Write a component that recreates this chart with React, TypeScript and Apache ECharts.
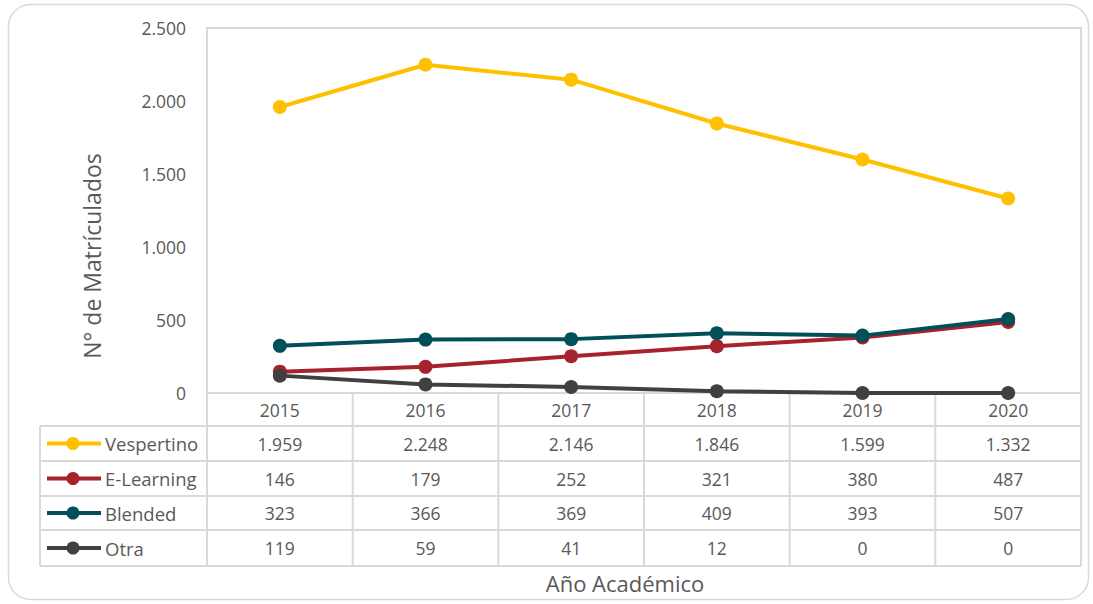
import React, { useEffect, useRef } from "react";
import * as echarts from "echarts";

const categories = ["2015", "2016", "2017", "2018", "2019", "2020"];
const seriesNames = ["Vespertino", "E-Learning", "Blended", "Otra"];
const vespertino = [1959, 2248, 2146, 1846, 1599, 1332];
const eLearning = [146, 179, 252, 321, 380, 487];
const blended = [323, 366, 369, 409, 393, 507];
const otra = [119, 59, 41, 12, 0, 0];
const yTicks = { min: 0, max: 2500, interval: 500 };
const colors = ["#FFC000", "#A8222E", "#014F59", "#404040"];

const seriesData = [vespertino, eLearning, blended, otra];

const fmt = (v: number) => {
  const s = String(Math.round(v));
  return s.replace(/\B(?=(\d{3})+(?!\d))/g, ".");
};

// layout
const L = 207, R = 1081, T = 28, B = 393;
const TL = 40;
const rowY = [393, 426, 461, 496, 530, 566];
const TEXT = "#595959";
const LINEC = "#D9D9D9";
const FONT = "'Open Sans', 'Noto Sans', sans-serif";
const FS = 17.5;

export default function App() {
  const ref = useRef<HTMLDivElement>(null);
  useEffect(() => {
    if (!ref.current) return;
    const chart = echarts.init(ref.current, undefined, { renderer: "svg" });
    const colW = (R - L) / categories.length;

    const graphics: any[] = [];
    graphics.push({
      type: "rect",
      shape: { x: 8.5, y: 4.5, width: 1080, height: 595, r: 22 },
      style: { fill: "none", stroke: LINEC, lineWidth: 1.5 },
      silent: true,
    });
    for (let i = 1; i < rowY.length; i++) {
      graphics.push({
        type: "line",
        shape: { x1: TL, y1: rowY[i], x2: R, y2: rowY[i] },
        style: { stroke: LINEC, lineWidth: 2 },
        silent: true,
      });
    }
    for (let c = 0; c <= categories.length; c++) {
      const x = L + c * colW;
      graphics.push({
        type: "line",
        shape: { x1: x, y1: B, x2: x, y2: rowY[rowY.length - 1] },
        style: { stroke: LINEC, lineWidth: 2 },
        silent: true,
      });
    }
    graphics.push({
      type: "line",
      shape: { x1: TL, y1: rowY[1], x2: TL, y2: rowY[rowY.length - 1] },
      style: { stroke: LINEC, lineWidth: 2 },
      silent: true,
    });
    seriesNames.forEach((name, i) => {
      const cy = (rowY[i + 1] + rowY[i + 2]) / 2;
      graphics.push({
        type: "line",
        shape: { x1: 47, y1: cy, x2: 101, y2: cy },
        style: { stroke: colors[i], lineWidth: 4 },
        silent: true,
      });
      graphics.push({
        type: "circle",
        shape: { cx: 73, cy, r: 6.5 },
        style: { fill: colors[i] },
        silent: true,
      });
      graphics.push({
        type: "text",
        x: 105,
        y: cy,
        style: {
          text: name,
          fill: TEXT,
          font: `18.5px ${FONT}`,
          verticalAlign: "middle",
          align: "left",
        },
        silent: true,
      });
    });
    graphics.push({
      type: "text",
      x: 625,
      y: 583,
      style: {
        text: "Año Académico",
        fill: TEXT,
        font: `22px ${FONT}`,
        align: "center",
        verticalAlign: "middle",
      },
      silent: true,
    });
    graphics.push({
      type: "text",
      x: 92,
      y: 256,
      rotation: Math.PI / 2,
      style: {
        text: "N° de Matrículados",
        fill: TEXT,
        font: `23px ${FONT}`,
        align: "center",
        verticalAlign: "middle",
      },
      silent: true,
    });

    const xAxes: any[] = [
      {
        type: "category",
        data: categories,
        position: "bottom",
        boundaryGap: true,
        axisLine: { show: true, lineStyle: { color: LINEC, width: 2 } },
        axisTick: { show: false },
        axisLabel: { show: false },
      },
      {
        type: "category",
        data: categories,
        position: "bottom",
        offset: (rowY[0] + rowY[1]) / 2 - B,
        boundaryGap: true,
        axisLine: { show: false },
        axisTick: { show: false },
        axisLabel: {
          color: TEXT,
          fontSize: FS,
          fontFamily: FONT,
          margin: 0,
          verticalAlign: "middle",
          interval: 0,
        },
      },
    ];
    seriesData.forEach((arr, i) => {
      const center = (rowY[i + 1] + rowY[i + 2]) / 2;
      xAxes.push({
        type: "category",
        data: categories,
        position: "bottom",
        offset: center - B,
        boundaryGap: true,
        axisLine: { show: false },
        axisTick: { show: false },
        axisLabel: {
          color: TEXT,
          fontSize: FS,
          fontFamily: FONT,
          margin: 0,
          verticalAlign: "middle",
          interval: 0,
          formatter: (_v: string, idx: number) => fmt(arr[idx]),
        },
      });
    });

    chart.setOption({
      animation: false,
      backgroundColor: "#ffffff",
      grid: {
        left: L,
        top: T,
        width: R - L,
        height: B - T,
        show: true,
        borderColor: LINEC,
        borderWidth: 2,
        containLabel: false,
      },
      xAxis: xAxes,
      yAxis: {
        type: "value",
        min: yTicks.min,
        max: yTicks.max,
        interval: yTicks.interval,
        axisLine: { show: false },
        axisTick: { show: false },
        splitLine: { show: false },
        axisLabel: {
          color: TEXT,
          fontSize: FS,
          fontFamily: FONT,
          margin: 21,
          formatter: (v: number) => fmt(v),
        },
      },
      series: seriesNames.map((name, i) => ({
        name,
        type: "line",
        xAxisIndex: 0,
        data: seriesData[i],
        symbol: "circle",
        symbolSize: 14,
        lineStyle: { color: colors[i], width: 4 },
        itemStyle: { color: colors[i] },
        z: 10 + i,
      })),
      graphic: graphics,
    });
    return () => chart.dispose();
  }, []);
  return (
    <div
      ref={ref}
      style={{ position: "absolute", left: 0, top: 0, width: 1093, height: 604 }}
    />
  );
}
